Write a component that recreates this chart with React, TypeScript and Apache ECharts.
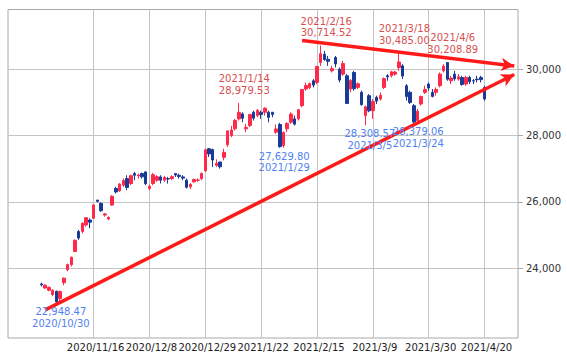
import React, { useEffect, useRef } from 'react';
import * as echarts from 'echarts';

// Trading days 2020/10/26 - 2021/4/20
const dates = [
  '2020/10/26', '2020/10/27', '2020/10/28', '2020/10/29', '2020/10/30',
  '2020/11/2', '2020/11/4', '2020/11/5', '2020/11/6', '2020/11/9', '2020/11/10', '2020/11/11', '2020/11/12', '2020/11/13',
  '2020/11/16', '2020/11/17', '2020/11/18', '2020/11/19', '2020/11/20', '2020/11/24', '2020/11/25', '2020/11/26', '2020/11/27', '2020/11/30',
  '2020/12/1', '2020/12/2', '2020/12/3', '2020/12/4', '2020/12/7', '2020/12/8', '2020/12/9', '2020/12/10', '2020/12/11',
  '2020/12/14', '2020/12/15', '2020/12/16', '2020/12/17', '2020/12/18', '2020/12/21', '2020/12/22', '2020/12/23', '2020/12/24',
  '2020/12/25', '2020/12/28', '2020/12/29', '2020/12/30',
  '2021/1/4', '2021/1/5', '2021/1/6', '2021/1/7', '2021/1/8', '2021/1/12', '2021/1/13', '2021/1/14', '2021/1/15',
  '2021/1/18', '2021/1/19', '2021/1/20', '2021/1/21', '2021/1/22', '2021/1/25', '2021/1/26', '2021/1/27', '2021/1/28', '2021/1/29',
  '2021/2/1', '2021/2/2', '2021/2/3', '2021/2/4', '2021/2/5', '2021/2/8', '2021/2/9', '2021/2/10', '2021/2/12',
  '2021/2/15', '2021/2/16', '2021/2/17', '2021/2/18', '2021/2/19', '2021/2/22', '2021/2/24', '2021/2/25', '2021/2/26',
  '2021/3/1', '2021/3/2', '2021/3/3', '2021/3/4', '2021/3/5', '2021/3/8', '2021/3/9', '2021/3/10', '2021/3/11', '2021/3/12',
  '2021/3/15', '2021/3/16', '2021/3/17', '2021/3/18', '2021/3/19', '2021/3/22', '2021/3/23', '2021/3/24', '2021/3/25', '2021/3/26',
  '2021/3/29', '2021/3/30', '2021/3/31',
  '2021/4/1', '2021/4/2', '2021/4/5', '2021/4/6', '2021/4/7', '2021/4/8', '2021/4/9', '2021/4/12', '2021/4/13', '2021/4/14',
  '2021/4/15', '2021/4/16', '2021/4/19', '2021/4/20',
];

const opens = [
  23520, 23400, 23330, 23200, 23300,
  23080, 23560, 23950, 24100, 24500, 25100, 25100, 25300, 25450,
  25500, 26050, 25950, 25600, 25480, 25900, 26400, 26330, 26500, 26700,
  26550, 26850, 26780, 26850, 26900, 26400, 26550, 26650, 26750,
  26650, 26700, 26700, 26850, 26800, 26750, 26650, 26450, 26600,
  26650, 26700, 26936, 27600,
  27575, 27100, 27200, 27340, 27720, 28000, 28200, 28500, 28650,
  28200, 28300, 28700, 28600, 28700, 28700, 28700, 28700, 28100, 28330,
  27700, 28200, 28400, 28500, 28500, 28900, 29400, 29450, 29650,
  29600, 30200, 30450, 30300, 29950, 30350, 30000, 29850, 29800,
  29400, 29900, 29450, 29300, 28600, 29200, 28750, 29150, 29100, 29450,
  29800, 29800, 29850, 30050, 30100, 29500, 29300, 28900, 28450, 28950,
  29300, 29550, 29300,
  29300, 29500, 29950, 30200, 29650, 29850, 29700, 29750, 29550, 29750,
  29650, 29700, 29750, 29450,
];

const closes = [
  23494, 23485, 23418, 23331, 22977,
  23295, 23695, 24105, 24325, 24839, 24905, 25349, 25520, 25385,
  25906, 26014, 25728, 25634, 25527, 26165, 26296, 26537, 26644, 26433,
  26787, 26800, 26809, 26751, 26547, 26467, 26817, 26756, 26652,
  26732, 26687, 26757, 26806, 26763, 26714, 26436, 26524, 26668,
  26656, 26854, 27568, 27444,
  27258, 27158, 27055, 27490, 28139, 28164, 28456, 28698, 28519,
  28242, 28633, 28523, 28756, 28631, 28822, 28546, 28635, 28197, 27663,
  28091, 28362, 28646, 28341, 28779, 29388, 29505, 29562, 29520,
  30084, 30467, 30292, 30236, 30017, 30156, 29671, 30168, 28966,
  29663, 29408, 29559, 28930, 28864, 28743, 29027, 29036, 29211, 29717,
  29766, 29921, 29914, 30216, 29792, 29174, 28995, 28405, 28729, 29176,
  29384, 29432, 29178,
  29388, 29854, 30089, 29696, 29730, 29708, 29768, 29538, 29751, 29620,
  29642, 29683, 29685, 29100,
];

const lows = [
  23450, 23370, 23300, 23150, 22948.47,
  23010, 23480, 23900, 24050, 24480, 24850, 25050, 25250, 25200,
  25480, 25980, 25700, 25550, 25440, 25880, 26250, 26300, 26450, 26350,
  26500, 26650, 26700, 26700, 26500, 26350, 26500, 26600, 26550,
  26600, 26550, 26650, 26750, 26700, 26650, 26400, 26380, 26580,
  26600, 26650, 26900, 27350,
  27050, 27050, 27000, 27250, 27650, 27950, 28150, 28450, 28400,
  28100, 28250, 28450, 28550, 28500, 28600, 28400, 28550, 28050, 27629.8,
  27630, 28100, 28350, 28300, 28450, 28850, 29350, 29400, 29450,
  29550, 30100, 30250, 30100, 29900, 30050, 29600, 29800, 28950,
  29300, 29350, 29400, 28900, 28308.57, 28700, 28500, 28950, 29050, 29400,
  29650, 29750, 29800, 29950, 29700, 29050, 28950, 28379.06, 28400, 28900,
  29250, 29350, 29150,
  29200, 29450, 29900, 29650, 29550, 29650, 29650, 29500, 29500, 29550,
  29550, 29600, 29600, 29050,
];

const highs = [
  23560, 23510, 23440, 23360, 23320,
  23320, 23720, 24130, 24350, 24860, 25150, 25380, 25540, 25500,
  25920, 26057, 25980, 25660, 25560, 26200, 26450, 26560, 26700, 26800,
  26820, 26900, 26850, 26880, 26920, 26520, 26870, 26800, 26800,
  26780, 26750, 26800, 26870, 26850, 26800, 26700, 26560, 26700,
  26700, 26880, 27602, 27620,
  27602, 27280, 27200, 27600, 28140, 28287, 28500, 28979.53, 28700,
  28350, 28650, 28750, 28800, 28750, 28850, 28750, 28700, 28330, 28380,
  28120, 28400, 28700, 28600, 28800, 29400, 29600, 29600, 29700,
  30100, 30714.52, 30550, 30400, 30100, 30400, 30050, 30250, 29850,
  29700, 29950, 29600, 29350, 28900, 29250, 29100, 29200, 29300, 29750,
  29850, 29950, 29950, 30485, 30150, 29550, 29350, 28950, 28800, 29200,
  29500, 29600, 29400,
  29450, 29900, 30150, 30208.89, 29800, 29950, 29850, 29800, 29800, 29800,
  29700, 29800, 29800, 29500,
];

const yTicks = [24000, 26000, 28000, 30000];
const xLabelDates = ['2020/11/16', '2020/12/8', '2020/12/29', '2021/1/22', '2021/2/15', '2021/3/9', '2021/3/30', '2021/4/20'];

const highNotes = [
  { date: '2021/1/14', value: 28979.53 },
  { date: '2021/2/16', value: 30714.52 },
  { date: '2021/3/18', value: 30485.0 },
  { date: '2021/4/6', value: 30208.89 },
];
const lowNotes = [
  { date: '2020/10/30', value: 22948.47 },
  { date: '2021/1/29', value: 27629.8 },
  { date: '2021/3/5', value: 28308.57 },
  { date: '2021/3/24', value: 28379.06 },
];

const PAD = 9;
const leftPad = Array.from({ length: PAD }, (_, i) => `L${i + 1}`);
const rightPad = Array.from({ length: PAD }, (_, i) => `R${i + 1}`);
const categories = [...leftPad, ...dates, ...rightPad];

const trendLines = [
  { from: ['2020/10/27', 22740], to: ['R8', 29840] },
  { from: ['2021/2/8', 30862], to: ['R8', 30095] },
];

const fmt = (v: number) => v.toLocaleString('en-US', { minimumFractionDigits: 2, maximumFractionDigits: 2 });

const FONT = 'DejaVu Sans';
const UP = '#ff2a4a';
const DOWN = '#1a3a98';
const RED_TEXT = '#d65050';
const BLUE_TEXT = '#4f82f0';
const GRID = '#c4c4c4';

export default function App() {
  const ref = useRef<HTMLDivElement>(null);
  useEffect(() => {
    if (!ref.current) return;
    const chart = echarts.init(ref.current, null, { renderer: 'svg' });
    const labelSet = new Set(xLabelDates);
    const showCat = (_: number, v: string) => labelSet.has(v);
    chart.setOption({
      animation: false,
      backgroundColor: '#fff',
      grid: { left: 8, right: 49, top: 9.5, bottom: 21, show: true, borderColor: '#a8a8a8', borderWidth: 1, backgroundColor: '#fff' },
      xAxis: {
        type: 'category',
        data: categories,
        boundaryGap: false,
        axisLine: { show: false },
        axisTick: { show: false },
        axisLabel: {
          interval: showCat, color: '#222', fontSize: 10, fontFamily: FONT, margin: 4, padding: [0, 0, 0, 4],
        },
        splitLine: { show: true, interval: showCat, lineStyle: { color: GRID, width: 1 } },
      },
      yAxis: {
        type: 'value',
        position: 'right',
        min: 21890,
        max: 31800,
        scale: true,
        axisLine: { show: false },
        axisTick: { show: true, length: 5, customValues: yTicks, lineStyle: { color: '#a8a8a8' } },
        axisLabel: {
          customValues: yTicks, color: '#333', fontSize: 10, fontFamily: FONT, margin: 8,
          formatter: (v: number) => (yTicks.includes(v) ? v.toLocaleString('en-US') : ''),
        },
        splitLine: { show: true, lineStyle: { color: GRID, width: 1 } },
      },
      series: [
        {
          type: 'candlestick',
          clip: false,
          barWidth: 3,
          encode: { x: 0, y: [1, 2, 3, 4] },
          data: dates.map((d, i) => [d, opens[i], closes[i], lows[i], highs[i]]),
          itemStyle: { color: UP, color0: DOWN, borderColor: UP, borderColor0: DOWN, borderWidth: 1 },
          markPoint: {
            silent: true,
            symbol: 'circle',
            symbolSize: 1,
            itemStyle: { color: 'rgba(0,0,0,0)' },
            data: [
              ...highNotes.map((n) => ({
                coord: [n.date, n.value],
                name: n.date,
                value: n.value,
                label: {
                  show: true, position: [6, -18], align: 'center', verticalAlign: 'middle',
                  color: RED_TEXT, fontSize: 10, fontFamily: FONT, lineHeight: 11.5,
                  formatter: () => `${n.date}\n${fmt(n.value)}`,
                },
              })),
              ...lowNotes.map((n) => ({
                coord: [n.date, n.value],
                name: n.date,
                value: n.value,
                label: {
                  show: true, position: [5, 15], align: 'center', verticalAlign: 'middle',
                  color: BLUE_TEXT, fontSize: 10, fontFamily: FONT, lineHeight: 11.5,
                  formatter: () => `${fmt(n.value)}\n${n.date}`,
                },
              })),
            ],
          },
          markLine: {
            silent: true,
            symbol: ['none', 'arrow'],
            symbolSize: [10, 13],
            label: { show: false },
            lineStyle: { color: '#ff1a1a', width: 3.5, type: 'solid' },
            emphasis: { disabled: true },
            data: trendLines.map((t) => [{ coord: t.from }, { coord: t.to }]),
          },
        },
      ],
    });
    return () => chart.dispose();
  }, []);
  return <div ref={ref} style={{ position: 'fixed', left: 0, top: 0, width: 567, height: 359 }} />;
}
